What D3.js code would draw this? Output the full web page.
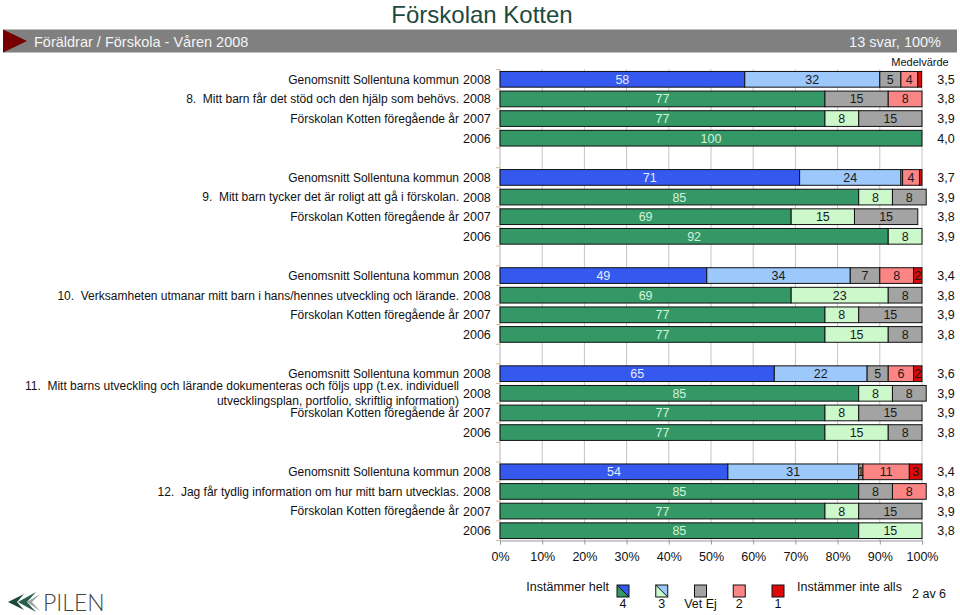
<!DOCTYPE html>
<html><head><meta charset="utf-8">
<script src="https://cdn.jsdelivr.net/npm/d3@7"></script>
<style>
html,body{margin:0;padding:0;background:#fff;}
svg{display:block;font-family:"Liberation Sans",Arial,sans-serif;}
</style></head>
<body>
<svg id="chart" width="960" height="615"></svg>
<script>
// ---------- DATA ----------
const title = "Förskolan Kotten";
const headerLeft = "Föräldrar / Förskola - Våren 2008";
const headerRight = "13 svar, 100%";
const questions = [
  ["8.  Mitt barn får det stöd och den hjälp som behövs."],
  ["9.  Mitt barn tycker det är roligt att gå i förskolan."],
  ["10.  Verksamheten utmanar mitt barn i hans/hennes utveckling och lärande."],
  ["11.  Mitt barns utveckling och lärande dokumenteras och följs upp (t.ex. individuell", "utvecklingsplan, portfolio, skriftlig information)"],
  ["12.  Jag får tydlig information om hur mitt barn utvecklas."]
];
const rowNames = ["Genomsnitt Sollentuna kommun", null, "Förskolan Kotten föregående år", ""];
const years = ["2008", "2008", "2007", "2006"];
const keys = ["v4", "v3", "ve", "v2", "v1"];
// values per question: rows = kommun 2008, Kotten 2008, 2007, 2006; cols = 4, 3, Vet Ej, 2, 1
const q8  = [[58, 32, 5, 4, 0.9], [77, 0, 15, 8, 0], [77, 8, 15, 0, 0], [100, 0, 0, 0, 0]];
const q9  = [[71, 24, 0.4, 4, 0.6], [85, 8, 8, 0, 0], [69, 15, 15, 0, 0], [92, 8, 0, 0, 0]];
const q10 = [[49, 34, 7, 8, 2], [69, 23, 8, 0, 0], [77, 8, 15, 0, 0], [77, 15, 8, 0, 0]];
const q11 = [[65, 22, 5, 6, 2], [85, 8, 8, 0, 0], [77, 8, 15, 0, 0], [77, 15, 8, 0, 0]];
const q12 = [[54, 31, 1, 11, 3], [85, 0, 8, 8, 0], [77, 8, 15, 0, 0], [85, 15, 0, 0, 0]];
const questionValues = [q8, q9, q10, q11, q12];
const means = [
  ["3,5", "3,8", "3,9", "4,0"],
  ["3,7", "3,9", "3,8", "3,9"],
  ["3,4", "3,8", "3,9", "3,8"],
  ["3,6", "3,9", "3,9", "3,8"],
  ["3,4", "3,8", "3,9", "3,8"]
];
const xTicks = [0, 10, 20, 30, 40, 50, 60, 70, 80, 90, 100];
const legendItems = [
  {key: "v4", label: "4"}, {key: "v3", label: "3"}, {key: "ve", label: "Vet Ej"},
  {key: "v2", label: "2"}, {key: "v1", label: "1"}
];

// ---------- STYLE ----------
const kommunColors = {v4: "#3559ee", v3: "#9cc8fb", ve: "#a3a3a3", v2: "#fb8585", v1: "#de0a0a"};
const schoolColors = {v4: "#349866", v3: "#ccf8cc", ve: "#a3a3a3", v2: "#fb8585", v1: "#de0a0a"};
const labelColors = {v4k: "#e4ecff", v4s: "#d4f2dc", other: "#1a1a1a"};

const svg = d3.select("#chart");

// Title
svg.append("text").attr("x", 482).attr("y", 23).attr("text-anchor", "middle")
  .attr("font-size", 24).attr("fill", "#1d4a3c").text(title);

// Header bar
svg.append("rect").attr("x", 3).attr("y", 29.5).attr("width", 954).attr("height", 23).attr("fill", "#808080");
svg.append("path").attr("d", "M3,29.5 L27,41 L3,52.5 Z").attr("fill", "#760000");
svg.append("text").attr("x", 34).attr("y", 46.5).attr("font-size", 14.5).attr("fill", "#f4f4f4").text(headerLeft);
svg.append("text").attr("x", 941).attr("y", 46.5).attr("text-anchor", "end").attr("font-size", 14.5).attr("fill", "#f4f4f4").text(headerRight);

// Rows
const rows = [];
questionValues.forEach((qv, g) => {
  qv.forEach((vals, r) => {
    const o = {slot: g * 5 + r, g, r, kommun: r === 0, year: years[r], mean: means[g][r]};
    keys.forEach((k, i) => o[k] = vals[i]);
    rows.push(o);
  });
});

const x = d3.scaleLinear().domain([0, 100]).range([500, 922]);
const y = d3.scaleBand().domain(d3.range(24)).range([69.5, 540.5]).paddingInner(0.2).paddingOuter(0.1);
const step = y.step();

// gridlines
svg.append("g").selectAll("line").data(xTicks.slice(1)).join("line")
  .attr("x1", d => x(d)).attr("x2", d => x(d)).attr("y1", 69.5).attr("y2", 540.5)
  .attr("stroke", "#c4c4c4").attr("stroke-width", 1);

// left axis with ticks at band boundaries
const leftAxis = svg.append("g");
leftAxis.append("line").attr("x1", 500).attr("x2", 500).attr("y1", 69.5).attr("y2", 540.5).attr("stroke", "#b4b4b4");
leftAxis.selectAll("line.t").data(d3.range(25)).join("line").attr("class", "t")
  .attr("x1", 496).attr("x2", 500)
  .attr("y1", d => 69.5 + d * step).attr("y2", d => 69.5 + d * step)
  .attr("stroke", "#d8b890");

// bottom axis
const xAxis = d3.axisBottom(x).tickValues(xTicks).tickFormat(d => d + "%").tickSize(4).tickPadding(8);
const ax = svg.append("g").attr("transform", "translate(0,540.5)").call(xAxis);
ax.select(".domain").attr("stroke", "#999");
ax.selectAll(".tick line").attr("stroke", "#999");
ax.selectAll(".tick text").attr("font-size", 12.5).attr("fill", "#111").attr("font-family", "Liberation Sans, Arial, sans-serif");

// stacks
const stack = d3.stack().keys(keys);
const series = stack(rows);
const segs = [];
series.forEach(s => s.forEach(d => {
  segs.push({key: s.key, x0: d[0], x1: d[1], v: d.data[s.key], row: d.data});
}));
const visible = segs.filter(d => d.v > 0);

const barG = svg.append("g");
barG.selectAll("rect").data(visible).join("rect")
  .attr("x", d => x(d.x0)).attr("width", d => x(d.x1) - x(d.x0))
  .attr("y", d => y(d.row.slot)).attr("height", y.bandwidth())
  .attr("fill", d => (d.row.kommun ? kommunColors : schoolColors)[d.key])
  .attr("stroke", "#111").attr("stroke-width", 1);

barG.selectAll("text").data(visible.filter(d => d.v >= 1)).join("text")
  .attr("x", d => (x(d.x0) + x(d.x1)) / 2)
  .attr("y", d => y(d.row.slot) + y.bandwidth() / 2)
  .attr("dy", "0.36em").attr("text-anchor", "middle").attr("font-size", 12.5)
  .attr("fill", d => d.key === "v4" ? (d.row.kommun ? labelColors.v4k : labelColors.v4s) : labelColors.other)
  .text(d => d3.format("d")(d.v));

// left labels
const lab = svg.append("g").attr("fill", "#111");
rows.forEach(d => {
  const cy = y(d.slot) + y.bandwidth() / 2;
  lab.append("text").attr("x", 463).attr("y", cy).attr("dy", "0.36em").attr("font-size", 12.5).text(d.year);
  lab.append("text").attr("x", 946).attr("y", cy).attr("dy", "0.36em").attr("font-size", 12.5).attr("text-anchor", "middle").text(d.mean);
  if (d.r === 1) {
    const lines = questions[d.g];
    lines.forEach((t, i) => {
      lab.append("text").attr("x", 459).attr("y", cy + (i - (lines.length - 1) / 2) * 15.5).attr("dy", "0.36em")
        .attr("font-size", 12).attr("text-anchor", "end").style("white-space", "pre").text(t);
    });
  } else if (rowNames[d.r]) {
    lab.append("text").attr("x", 459).attr("y", cy).attr("dy", "0.36em").attr("font-size", 12)
      .attr("text-anchor", "end").text(rowNames[d.r]);
  }
});
svg.append("text").attr("x", 920).attr("y", 66).attr("text-anchor", "middle").attr("font-size", 11).attr("fill", "#111").text("Medelvärde");

// legend
const lg = svg.append("g").attr("font-size", 12.5).attr("fill", "#111");
lg.append("text").attr("x", 609).attr("y", 591).attr("text-anchor", "end").text("Instämmer helt");
lg.append("text").attr("x", 797).attr("y", 591).text("Instämmer inte alls");
lg.append("text").attr("x", 912).attr("y", 598).text("2 av 6");
const legX = d3.scalePoint().domain(legendItems.map(d => d.key)).range([623, 778]);
legendItems.forEach(it => {
  const cx = legX(it.key), x0 = cx - 6, y0 = 585, w = 12, h = 12;
  if (it.key === "v4" || it.key === "v3") {
    lg.append("path").attr("d", `M${x0},${y0} L${x0 + w},${y0} L${x0 + w},${y0 + h} Z`).attr("fill", kommunColors[it.key]);
    lg.append("path").attr("d", `M${x0},${y0} L${x0},${y0 + h} L${x0 + w},${y0 + h} Z`).attr("fill", schoolColors[it.key]);
    lg.append("line").attr("x1", x0).attr("y1", y0).attr("x2", x0 + w).attr("y2", y0 + h).attr("stroke", "#111");
    lg.append("rect").attr("x", x0).attr("y", y0).attr("width", w).attr("height", h).attr("fill", "none").attr("stroke", "#111");
  } else {
    lg.append("rect").attr("x", x0).attr("y", y0).attr("width", w).attr("height", h)
      .attr("fill", kommunColors[it.key]).attr("stroke", "#111");
  }
  lg.append("text").attr("x", cx).attr("y", 608).attr("text-anchor", "middle").text(it.label);
});

// logo
const logo = svg.append("g");
logo.append("path").attr("d", "M8,602 L24,594 L17,602 L24,610 Z").attr("fill", "#1d4a3c");
logo.append("path").attr("d", "M18,602 L36,592 L27,602 L36,612 Z").attr("fill", "#2a5e4c");
logo.append("path").attr("d", "M27,602 L40,594 L32,602 L40,611 Z").attr("fill", "#9aa8a2");
logo.append("text").attr("x", 43).attr("y", 611).attr("font-size", 23).attr("font-family", "Lato, sans-serif")
  .attr("font-weight", 300).attr("fill", "#444").text("PILEN");
</script>
</body></html>
